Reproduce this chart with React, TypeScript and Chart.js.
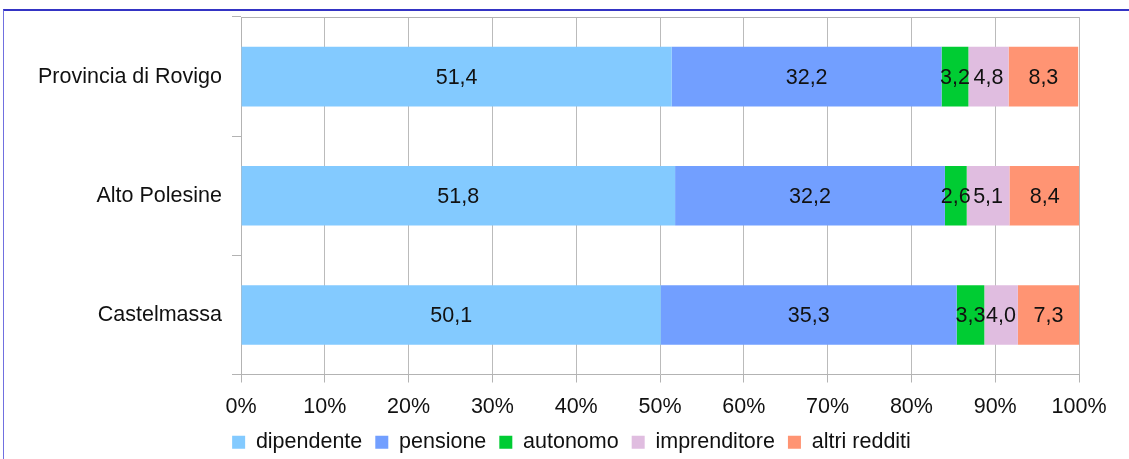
import React, { useEffect, useRef } from "react";
import { Chart, registerables } from "chart.js";

Chart.register(...registerables);

const categories = ["Provincia di Rovigo", "Alto Polesine", "Castelmassa"];
const seriesNames = ["dipendente", "pensione", "autonomo", "imprenditore", "altri redditi"];
const dipendente = [51.4, 51.8, 50.1];
const pensione = [32.2, 32.2, 35.3];
const autonomo = [3.2, 2.6, 3.3];
const imprenditore = [4.8, 5.1, 4.0];
const altriRedditi = [8.3, 8.4, 7.3];
const xTicks = [0, 10, 20, 30, 40, 50, 60, 70, 80, 90, 100];
const seriesColors = ["#83caff", "#729fff", "#00cc33", "#e0bde0", "#ff9473"];

const FONT = "'Liberation Sans', Arial, sans-serif";
const FS = 21.5;
const GRID = "rgba(120,120,120,0.5)";

const labelPlugin = {
  id: "barLabels",
  afterDatasetsDraw(chart: any) {
    const ctx = chart.ctx;
    ctx.save();
    ctx.font = `${FS}px ${FONT}`;
    ctx.fillStyle = "#111";
    ctx.textAlign = "center";
    ctx.textBaseline = "middle";
    chart.data.datasets.forEach((ds: any, di: number) => {
      const meta = chart.getDatasetMeta(di);
      meta.data.forEach((el: any, i: number) => {
        const v = ds.data[i] as number;
        const x = (el.x + el.base) / 2;
        ctx.fillText(v.toFixed(1).replace(".", ","), x, el.y + 1);
      });
    });
    ctx.restore();
  },
};

const topLinePlugin = {
  id: "topLine",
  afterLayout(chart: any) {
    if (chart.legend) {
      chart.legend.left += 32;
      chart.legend.right += 32;
    }
  },
  afterDraw(chart: any) {
    const { ctx, chartArea } = chart;
    ctx.save();
    ctx.strokeStyle = "#b3b3b3";
    ctx.lineWidth = 1;
    ctx.beginPath();
    ctx.moveTo(chartArea.left, Math.round(chartArea.top) + 0.5);
    ctx.lineTo(chartArea.right, Math.round(chartArea.top) + 0.5);
    ctx.stroke();
    ctx.restore();
  },
};

export default function App() {
  const ref = useRef<HTMLCanvasElement>(null);
  useEffect(() => {
    if (!ref.current) return;
    Chart.defaults.font.family = FONT;
    const values = [dipendente, pensione, autonomo, imprenditore, altriRedditi];
    const chart = new Chart(ref.current, {
      type: "bar",
      data: {
        labels: categories,
        datasets: seriesNames.map((name, i) => ({
          label: name,
          data: values[i],
          backgroundColor: seriesColors[i],
          borderWidth: 0,
          categoryPercentage: 0.5,
          barPercentage: 1,
        })),
      },
      options: {
        indexAxis: "y",
        animation: false,
        responsive: false,
        layout: { padding: { top: 17, left: 0, right: 50, bottom: -4 } },
        scales: {
          x: {
            stacked: true,
            min: 0,
            max: 100,
            z: 1,
            afterBuildTicks(scale: any) {
              scale.ticks = xTicks.map((v) => ({ value: v }));
            },
            afterFit(scale: any) {
              scale.height = 44;
            },
            ticks: {
              callback: (v: any) => v + "%",
              font: { size: FS },
              color: "#111",
              padding: 12,
              maxRotation: 0,
            },
            grid: { color: GRID, tickLength: 8, tickColor: "#b3b3b3" },
            border: { color: "#b3b3b3" },
          },
          y: {
            stacked: true,
            z: 1,
            afterFit(scale: any) {
              scale.width = 241;
              scale.paddingTop = 0;
              scale.paddingBottom = 0;
            },
            ticks: { font: { size: FS }, color: "#111", padding: 10 },
            grid: { drawOnChartArea: false, tickLength: 9, color: "#b3b3b3" },
            border: { color: "#b3b3b3" },
          },
        },
        plugins: {
          legend: {
            position: "bottom",
            labels: {
              boxWidth: 13,
              boxHeight: 13,
              padding: 13,
              color: "#111",
              font: { size: FS },
            },
          },
          tooltip: { enabled: false },
        },
      },
      plugins: [labelPlugin, topLinePlugin],
    });
    return () => chart.destroy();
  }, []);
  return (
    <div style={{ position: "fixed", left: 0, top: 0, width: 1129, height: 459, background: "#fff" }}>
      <canvas ref={ref} width={1129} height={459} style={{ position: "absolute", left: 0, top: 0 }} />
      <div
        style={{
          position: "absolute",
          left: 3,
          top: 9,
          width: 1126,
          height: 450,
          borderTop: "2px solid #3434c4",
          borderLeft: "1px solid #7070e0",
          boxSizing: "border-box",
          pointerEvents: "none",
        }}
      />
    </div>
  );
}
